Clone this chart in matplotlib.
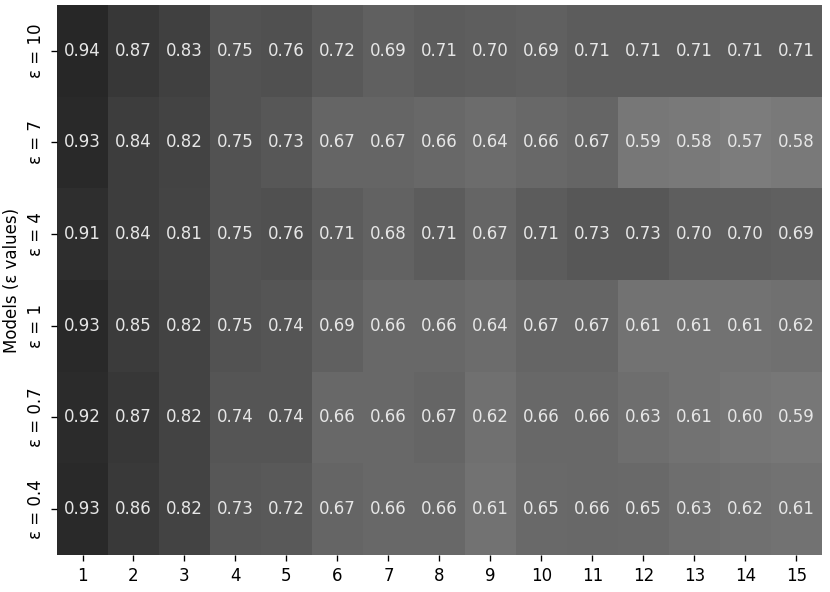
import matplotlib
matplotlib.use("Agg")
import matplotlib.pyplot as plt
import numpy as np
import seaborn as sns

# accuracy per model (rows) over 15 steps (columns)
row_labels = ['ε = 10', 'ε = 7', 'ε = 4', 'ε = 1', 'ε = 0.7', 'ε = 0.4']
col_labels = list(range(1, 16))

eps_10 = [0.94, 0.87, 0.83, 0.75, 0.76, 0.72, 0.69, 0.71, 0.70, 0.69, 0.71, 0.71, 0.71, 0.71, 0.71]
eps_7 = [0.93, 0.84, 0.82, 0.75, 0.73, 0.67, 0.67, 0.66, 0.64, 0.66, 0.67, 0.59, 0.58, 0.57, 0.58]
eps_4 = [0.91, 0.84, 0.81, 0.75, 0.76, 0.71, 0.68, 0.71, 0.67, 0.71, 0.73, 0.73, 0.70, 0.70, 0.69]
eps_1 = [0.93, 0.85, 0.82, 0.75, 0.74, 0.69, 0.66, 0.66, 0.64, 0.67, 0.67, 0.61, 0.61, 0.61, 0.62]
eps_07 = [0.92, 0.87, 0.82, 0.74, 0.74, 0.66, 0.66, 0.67, 0.62, 0.66, 0.66, 0.63, 0.61, 0.60, 0.59]
eps_04 = [0.93, 0.86, 0.82, 0.73, 0.72, 0.67, 0.66, 0.66, 0.61, 0.65, 0.66, 0.65, 0.63, 0.62, 0.61]

data = np.array([eps_10, eps_7, eps_4, eps_1, eps_07, eps_04])

# 120 dpi so text comes out at the reference's size
fig = plt.figure(figsize=(830 / 120, 592 / 120), dpi=120)
ax = fig.add_axes([0.0687, 0.0625, 0.9213, 0.9291])

sns.heatmap(data, ax=ax, cmap='gray_r', vmin=0, vmax=1, alpha=0.9,
            annot=True, fmt='.2f', cbar=False,
            xticklabels=col_labels, yticklabels=row_labels,
            annot_kws={'color': '#e6e6e6', 'fontsize': 10})

ax.set_ylabel('Models (ε values)')
ax.tick_params(axis='y', rotation=90)
for t in ax.get_yticklabels():
    t.set_va('center')

fig.savefig('out.png', dpi=120)
